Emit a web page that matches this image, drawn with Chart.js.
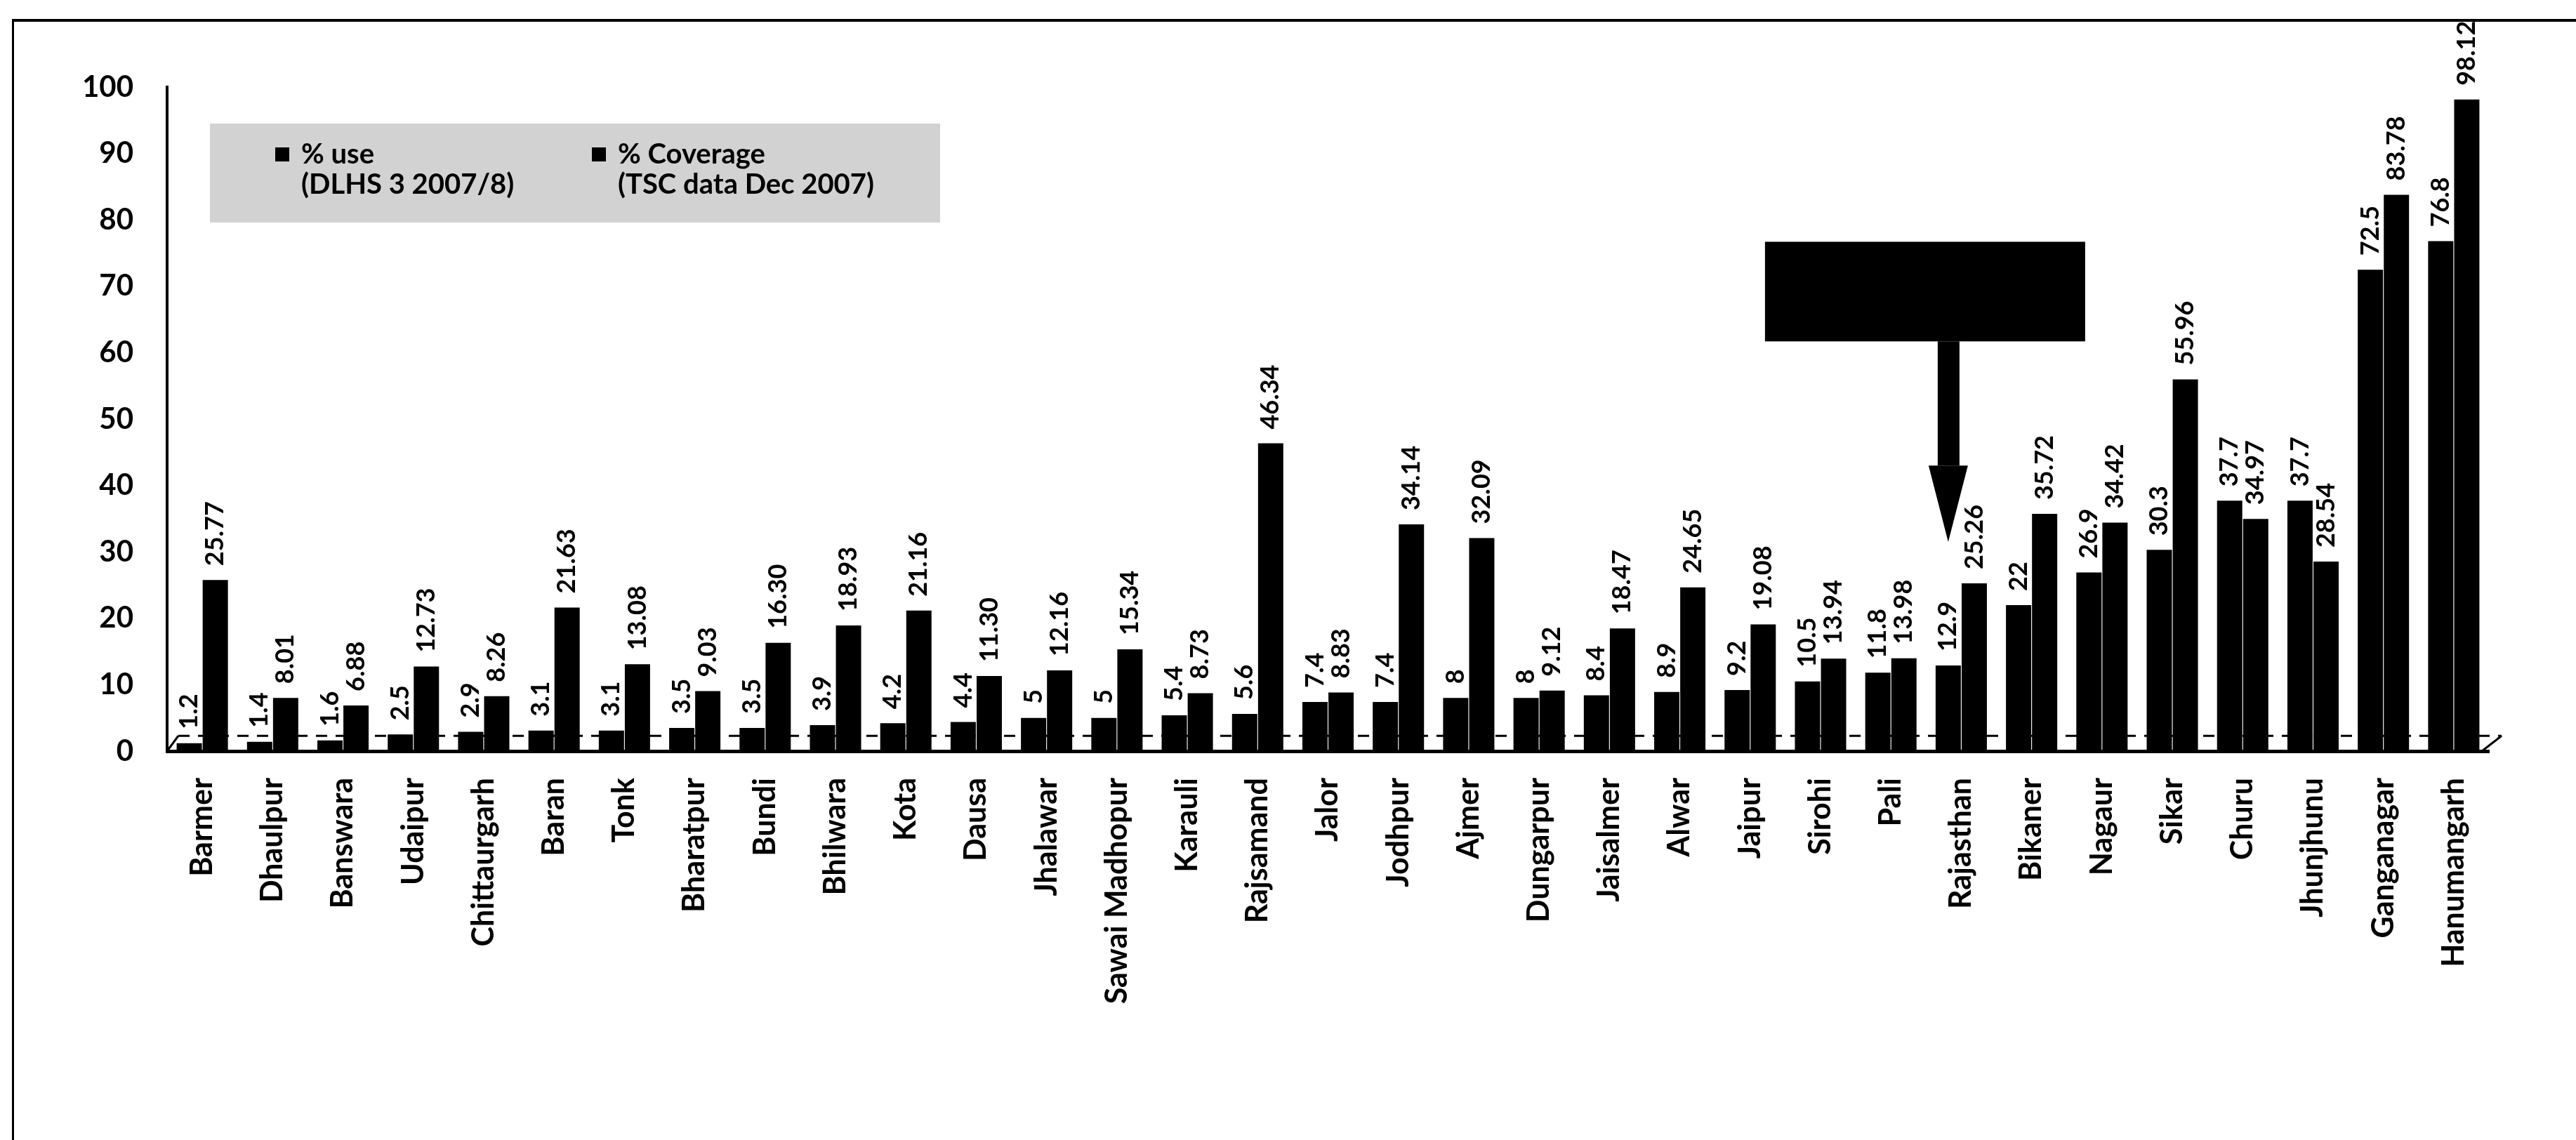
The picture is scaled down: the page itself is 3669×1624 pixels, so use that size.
<!DOCTYPE html>
<html>
<head>
<meta charset="utf-8">
<title>Rajasthan districts - % use and % coverage</title>
<script src="https://cdn.jsdelivr.net/npm/chart.js@4.4.0/dist/chart.umd.min.js"></script>
<style>
  html, body { margin: 0; padding: 0; background: #fff; }
  #wrap { position: relative; width: 3669px; height: 1624px; overflow: hidden; }
  #frame { position: absolute; left: 17px; top: 27px; right: -10px; bottom: -10px;
           border-left: 3px solid #000; border-top: 4px solid #000; }
  #chart { position: absolute; left: 0; top: 0; }
</style>
</head>
<body>
<div id="wrap">
  <div id="frame"></div>
  <canvas id="chart" width="3669" height="1624"></canvas>
</div>
<script>
// categories, left to right
const districts = [
  'Barmer', 'Dhaulpur', 'Banswara', 'Udaipur', 'Chittaurgarh', 'Baran', 'Tonk',
  'Bharatpur', 'Bundi', 'Bhilwara', 'Kota', 'Dausa', 'Jhalawar', 'Sawai Madhopur',
  'Karauli', 'Rajsamand', 'Jalor', 'Jodhpur', 'Ajmer', 'Dungarpur', 'Jaisalmer',
  'Alwar', 'Jaipur', 'Sirohi', 'Pali', 'Rajasthan', 'Bikaner', 'Nagaur', 'Sikar',
  'Churu', 'Jhunjhunu', 'Ganganagar', 'Hanumangarh'
];

// % use (DLHS 3 2007/8)
const useValues = [
  1.2, 1.4, 1.6, 2.5, 2.9, 3.1, 3.1, 3.5, 3.5, 3.9, 4.2, 4.4, 5, 5,
  5.4, 5.6, 7.4, 7.4, 8, 8, 8.4, 8.9, 9.2, 10.5, 11.8, 12.9, 22, 26.9, 30.3,
  37.7, 37.7, 72.5, 76.8
];

// % Coverage (TSC data Dec 2007)
const coverageValues = [
  25.77, 8.01, 6.88, 12.73, 8.26, 21.63, 13.08, 9.03, 16.30, 18.93, 21.16, 11.30, 12.16, 15.34,
  8.73, 46.34, 8.83, 34.14, 32.09, 9.12, 18.47, 24.65, 19.08, 13.94, 13.98, 25.26, 35.72, 34.42, 55.96,
  34.97, 28.54, 83.78, 98.12
];

const useLegend = ['% use', '(DLHS 3 2007/8)'];
const coverageLegend = ['% Coverage', '(TSC data Dec 2007)'];

const yMin = 0;
const yMax = 100;
const yStep = 10;
const floorLevel = 2.3;          // back edge of the 3D floor (dashed line)
const calloutDistrict = 'Rajasthan';

// value labels above each bar, rotated
const barLabels = {
  id: 'barLabels',
  afterDatasetsDraw(chart) {
    const ctx = chart.ctx;
    ctx.save();
    ctx.font = 'bold 36px Lato';
    ctx.fillStyle = '#000';
    ctx.textAlign = 'left';
    ctx.textBaseline = 'middle';
    chart.data.datasets.forEach((ds, di) => {
      chart.getDatasetMeta(di).data.forEach((bar, i) => {
        const v = ds.data[i];
        const text = di === 0 ? String(v) : v.toFixed(2);
        ctx.save();
        ctx.translate(bar.x, bar.y - 20);
        ctx.rotate(-Math.PI / 2);
        ctx.fillText(text, 0, 0);
        ctx.restore();
      });
    });
    ctx.restore();
  }
};

// dashed back edge of the floor
const floorLine = {
  id: 'floorLine',
  beforeDatasetsDraw(chart) {
    const { ctx, chartArea, scales } = chart;
    const yf = scales.y.getPixelForValue(floorLevel);
    ctx.save();
    ctx.strokeStyle = '#000';
    ctx.lineWidth = 3;
    ctx.beginPath();
    ctx.moveTo(chartArea.left, chartArea.bottom);
    ctx.lineTo(chartArea.left + 16, yf);
    ctx.stroke();
    ctx.setLineDash([16, 12]);
    ctx.beginPath();
    ctx.moveTo(chartArea.left + 16, yf);
    ctx.lineTo(chartArea.right + 18, yf);
    ctx.stroke();
    ctx.setLineDash([]);
    ctx.beginPath();
    ctx.moveTo(chartArea.right - 10, chartArea.bottom);
    ctx.lineTo(chartArea.right + 18, yf);
    ctx.stroke();
    ctx.restore();
  }
};

// legend block with two-line entries on a grey band
const legendBox = {
  id: 'legendBox',
  afterDraw(chart) {
    const { ctx, chartArea } = chart;
    const x0 = chartArea.left + 61, y0 = 176;
    ctx.save();
    ctx.fillStyle = '#d2d2d2';
    ctx.fillRect(x0, y0, 1040, 141);
    ctx.font = 'bold 40px Lato';
    ctx.textBaseline = 'middle';
    ctx.textAlign = 'left';
    ctx.fillStyle = '#000';
    const items = [[x0 + 103, useLegend], [x0 + 554, coverageLegend]];
    items.forEach(([mx, lines]) => {
      ctx.fillRect(mx - 10, 210, 20, 20);
      ctx.fillText(lines[0], mx + 27, 220);
      ctx.fillText(lines[1], mx + 27, 263);
    });
    ctx.restore();
  }
};

// black callout box with arrow pointing at the state average
const callout = {
  id: 'callout',
  afterDraw(chart) {
    const { ctx, scales } = chart;
    const idx = districts.indexOf(calloutDistrict);
    const tipX = chart.getDatasetMeta(0).data[idx].x;
    const y = (v) => scales.y.getPixelForValue(v);
    ctx.save();
    ctx.fillStyle = '#000';
    ctx.fillRect(tipX - 261, y(76.7), 456, y(61.7) - y(76.7));
    ctx.fillRect(tipX - 15, y(61.7), 31, y(43) - y(61.7));
    ctx.beginPath();
    ctx.moveTo(tipX - 28, y(43));
    ctx.lineTo(tipX + 28, y(43));
    ctx.lineTo(tipX, y(31.5));
    ctx.closePath();
    ctx.fill();
    ctx.restore();
  }
};

function drawChart() {
  const ctx = document.getElementById('chart').getContext('2d');
  new Chart(ctx, {
    type: 'bar',
    data: {
      labels: districts,
      datasets: [
        {
          label: useLegend.join(' '),
          data: useValues,
          backgroundColor: '#000',
          borderWidth: 0,
          categoryPercentage: 0.74,
          barPercentage: 0.97
        },
        {
          label: coverageLegend.join(' '),
          data: coverageValues,
          backgroundColor: '#000',
          borderWidth: 0,
          categoryPercentage: 0.74,
          barPercentage: 0.97
        }
      ]
    },
    options: {
      responsive: false,
      animation: false,
      layout: { padding: { top: 124, right: 124, left: 0, bottom: 0 } },
      plugins: {
        legend: { display: false },
        tooltip: { enabled: false }
      },
      scales: {
        x: {
          grid: { display: false },
          border: { display: true, color: '#000', width: 5 },
          ticks: {
            autoSkip: false,
            maxRotation: 90,
            minRotation: 90,
            padding: 30,
            color: '#000',
            font: { family: 'Lato', size: 43, weight: 'bold' }
          },
          afterFit: (scale) => { scale.height = 554; }
        },
        y: {
          min: yMin,
          max: yMax,
          grid: { display: false, drawTicks: false },
          border: { display: true, color: '#000', width: 4 },
          ticks: {
            stepSize: yStep,
            padding: 48,
            color: '#000',
            font: { family: 'Lato', size: 42, weight: 'bold' }
          },
          afterFit: (scale) => { scale.width = 238; }
        }
      }
    },
    plugins: [floorLine, barLabels, legendBox, callout]
  });
}

Promise.all([
  document.fonts.load('bold 43px Lato'),
  document.fonts.load('bold 42px Lato')
]).then(drawChart, drawChart);
</script>
</body>
</html>
